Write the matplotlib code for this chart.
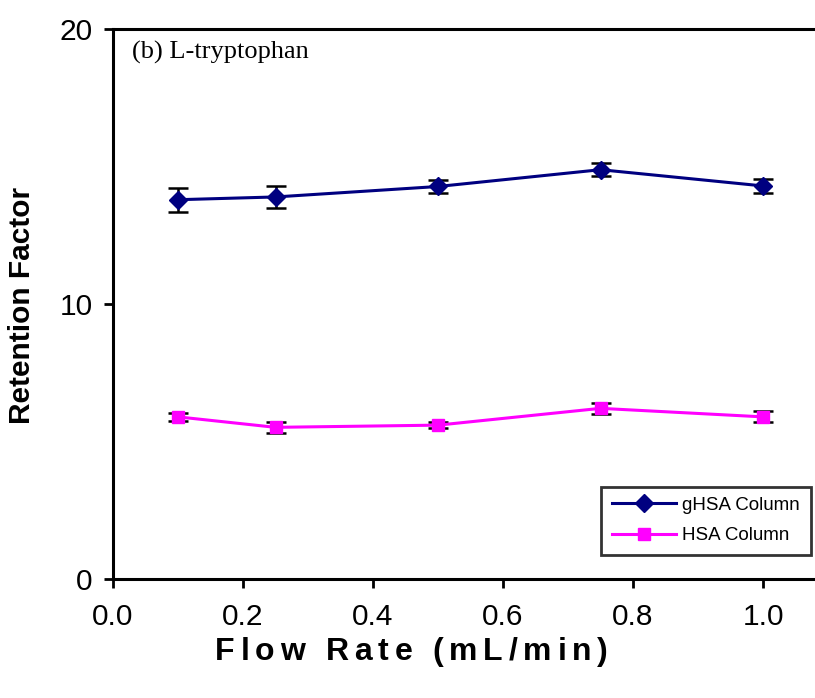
import numpy as np
import matplotlib
matplotlib.use("Agg")
from matplotlib import pyplot as plt
from matplotlib.font_manager import FontProperties

# data
flow_rate = [0.1, 0.25, 0.5, 0.75, 1.0]
ghsa_k = [13.78, 13.88, 14.26, 14.87, 14.28]
ghsa_err = [0.44, 0.40, 0.25, 0.24, 0.25]
hsa_k = [5.89, 5.51, 5.59, 6.20, 5.89]
hsa_err = [0.15, 0.21, 0.12, 0.20, 0.20]
xticks = [0.0, 0.2, 0.4, 0.6, 0.8, 1.0]
yticks = [0, 10, 20]
xlabel = 'Flow Rate (mL/min)'

plt.rcParams['font.family'] = ['Liberation Sans', 'DejaVu Sans']

W, H = 815, 698

def spaced_text(fig, s, x0, x1, yc, size):
    # draw text letter by letter, stretched from x0 to x1 (pixels)
    prop = FontProperties(family='Liberation Sans', weight='bold', size=size)
    r = fig.canvas.get_renderer()
    widths = []
    for ch in s:
        w, _, _ = r.get_text_width_height_descent(ch, prop, ismath=False)
        if ch == ' ':
            w = size * 100 / 72 * 0.278
        widths.append(w)
    gap = (x1 - x0 - sum(widths)) / (len(s) - 1)
    x = x0
    for ch, w in zip(s, widths):
        fig.text(x / W, 1 - yc / H, ch, fontproperties=prop, ha='left', va='center')
        x += w + gap

def mainf():
    fig = plt.figure(figsize=(W / 100, H / 100), dpi=100)
    ax = fig.add_axes([113/W, 1-579/H, 715/W, (579-28.5)/H])

    # error bars first, markers on top
    ax.errorbar(flow_rate, ghsa_k, yerr=ghsa_err, fmt='none', ecolor='black',
                elinewidth=1.8, capsize=7, capthick=1.8, zorder=2)
    ax.errorbar(flow_rate, hsa_k, yerr=hsa_err, fmt='none', ecolor='black',
                elinewidth=1.8, capsize=7, capthick=1.8, zorder=2)
    ax.plot(flow_rate, ghsa_k, color='#000080', lw=2.2, marker='D', ms=9.5,
            label='gHSA Column', zorder=3)
    ax.plot(flow_rate, hsa_k, color='#FF00FF', lw=2.2, marker='s', ms=8.5,
            label='HSA Column', zorder=3)

    ax.set_xlim(0, 1.1)
    ax.set_ylim(0, 20)
    ax.set_xticks(xticks)
    ax.set_xticklabels(['%.1f' % v for v in xticks])
    ax.set_yticks(yticks)
    ax.tick_params(axis='both', direction='out', length=6.5, width=2,
                   labelsize=21.5, pad=8)
    ax.tick_params(axis='x', pad=11)
    for s in ['left', 'bottom', 'top']:
        ax.spines[s].set_linewidth(2.2)
    ax.spines['right'].set_visible(False)

    spaced_text(fig, xlabel, 215, 608, 652, 23)
    fig.text(22/W, 1 - 305/H, 'Retention Factor', rotation=90, fontsize=21.5,
             fontweight='bold', ha='center', va='center')

    fig.text(132/W, 1 - 52/H, '(b) L-tryptophan', family='Liberation Serif',
             fontsize=19, va='center', ha='left')

    leg = ax.legend(loc='center', bbox_to_anchor=(706/W, 1 - 520.5/H),
                    bbox_transform=fig.transFigure, fontsize=13.5,
                    numpoints=1, handlelength=3.4, frameon=True, fancybox=False,
                    borderpad=0.55, labelspacing=0.7, handletextpad=0.37,
                    borderaxespad=0)
    leg.get_frame().set_edgecolor('black')
    leg.get_frame().set_linewidth(2)

    fig.savefig('out.png', dpi=100)

if __name__ == "__main__":
    mainf()
